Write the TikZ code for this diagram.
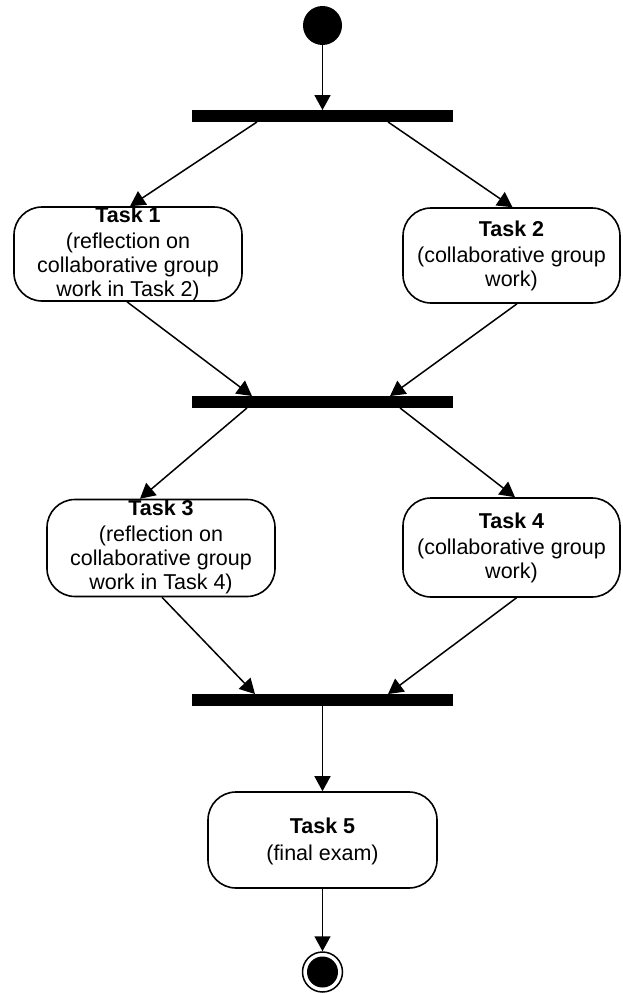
\documentclass[tikz,border=0pt]{standalone}
\usepackage{fontspec}
\setmainfont{Liberation Sans}
\usetikzlibrary{arrows.meta}
\begin{document}
\begin{tikzpicture}[x=1pt,y=-1pt,
  flow/.style={-{Triangle[length=15pt,width=16pt]}, line width=1.5pt},
  syncbar/.style={fill=black, draw=none, minimum width=261pt, minimum height=11.5pt, inner sep=0pt},
  taskbox/.style={draw, rounded corners=28pt, line width=1.6pt, inner sep=0pt, fill=white},
  tasktext/.style={align=center, font=\fontsize{21.5}{24}\selectfont, inner sep=0pt}]
\useasboundingbox[fill=white] (0,0) rectangle (622,993);

\node[circle, fill=black, minimum size=39pt, inner sep=0pt] (start) at (322.5,25.5) {};
\node[syncbar] (bar1) at (322.5,116) {};
\node[syncbar] (bar2) at (322.5,402) {};
\node[syncbar] (bar3) at (322.5,700) {};

\node[taskbox, minimum width=228pt, minimum height=94pt] (t1) at (128,254) {};
\node[taskbox, minimum width=217pt, minimum height=95pt] (t2) at (511.5,255.5) {};
\node[taskbox, minimum width=228pt, minimum height=97pt] (t3) at (161,548) {};
\node[taskbox, minimum width=217pt, minimum height=99pt] (t4) at (511.5,547.5) {};
\node[taskbox, minimum width=229pt, minimum height=96pt] (t5) at (322.5,840) {};

\node[tasktext] (t1txt) at (128,254) {\textbf{Task 1}\\[2pt](reflection on\\collaborative group\\work in Task 2)};
\node[tasktext] (t2txt) at (511.5,256) {\textbf{Task 2}\\[2pt](collaborative group\\work)};
\node[tasktext] (t3txt) at (161,547) {\textbf{Task 3}\\[2pt](reflection on\\collaborative group\\work in Task 4)};
\node[tasktext] (t4txt) at (511.5,548) {\textbf{Task 4}\\[2pt](collaborative group\\work)};
\node[tasktext] (t5txt) at (322.5,841) {\textbf{Task 5}\\[3pt](final exam)};

\node[circle, draw, line width=1.5pt, minimum size=40pt, inner sep=0pt] (end) at (322.5,972) {};
\node[circle, fill=black, minimum size=31pt, inner sep=0pt] (endin) at (end.center) {};

\draw[flow] (start) -- (bar1.north);
\draw[flow] ([xshift=-65.5pt]bar1.south) -- ([xshift=2pt]t1.north);
\draw[flow] ([xshift=65.5pt]bar1.south) -- ([xshift=1pt]t2.north);
\draw[flow] ([xshift=-1pt]t1.south) -- ([xshift=-70.5pt]bar2.north);
\draw[flow] ([xshift=5.5pt]t2.south) -- ([xshift=67.5pt]bar2.north);
\draw[flow] ([xshift=-75.5pt]bar2.south) -- ([xshift=-21pt]t3.north);
\draw[flow] ([xshift=77.5pt]bar2.south) -- ([xshift=3.5pt]t4.north);
\draw[flow] ([xshift=1pt]t3.south) -- ([xshift=-67.5pt]bar3.north);
\draw[flow] ([xshift=5pt]t4.south) -- ([xshift=65.5pt]bar3.north);
\draw[flow] (bar3.south) -- (t5.north);
\draw[flow] (t5.south) -- (end.north);
\end{tikzpicture}
\end{document}
